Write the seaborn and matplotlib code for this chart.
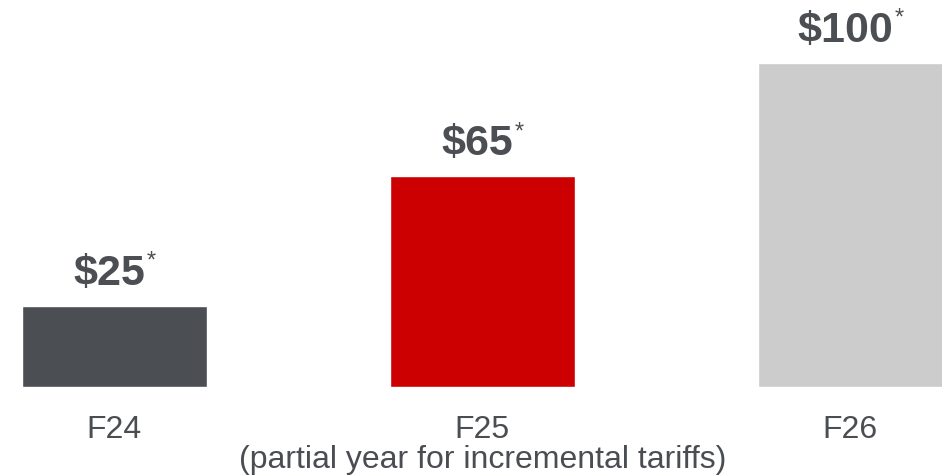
import matplotlib
matplotlib.use("Agg")
import matplotlib.pyplot as plt
import seaborn as sns
import pandas as pd

# Tariff cost by fiscal year ($M)
categories = ["F24", "F25", "F26"]
values = [25, 65, 100]
tick_labels = ["F24", "F25\n(partial year for incremental tariffs)", "F26"]
bar_colors = ["#4b4e53", "#cc0000", "#cccccc"]
value_labels = ["\\$25", "\\$65", "\\$100"]

sns.set_theme(style="white")
plt.rcParams["font.family"] = ["Liberation Sans", "DejaVu Sans"]

df = pd.DataFrame({"year": categories, "cost": values})

fig = plt.figure(figsize=(9.42, 4.77), dpi=100)
ax = fig.add_axes([0, 89 / 477, 1, 388 / 477])

sns.barplot(data=df, x="year", y="cost", hue="year", palette=bar_colors,
            width=0.503, saturation=1, legend=False, ax=ax)

ax.set_xlim(-0.311, 2.249)
ax.set_ylim(0, 119.75)
ax.set_xlabel("")
ax.set_ylabel("")
ax.set_yticks([])
ax.set_xticks(range(len(categories)))
ax.set_xticklabels(tick_labels, fontsize=23, color="#4a4d52", linespacing=1.0)
ax.tick_params(axis="x", length=0, pad=19.5)
for s in ax.spines.values():
    s.set_visible(False)

text_color = "#4b4e53"
fig.canvas.draw()
renderer = fig.canvas.get_renderer()
for i, (v, lab) in enumerate(zip(values, value_labels)):
    star = ax.annotate("*", xy=(i, v), xytext=(0, 22), textcoords="offset pixels",
                       fontsize=17, color=text_color, ha="left", va="baseline")
    main = ax.annotate(lab, xy=(i, v), xytext=(0, 22), textcoords="offset pixels",
                       fontsize=31, fontweight="bold", color=text_color,
                       ha="center", va="baseline")
    mw = main.get_window_extent(renderer).width
    sw = star.get_window_extent(renderer).width
    total = mw + sw + 1
    main.set_position((-total / 2 + mw / 2, 22))
    star.set_position((-total / 2 + mw + 1, 22 + 17))

fig.savefig("out.png", dpi=100)
